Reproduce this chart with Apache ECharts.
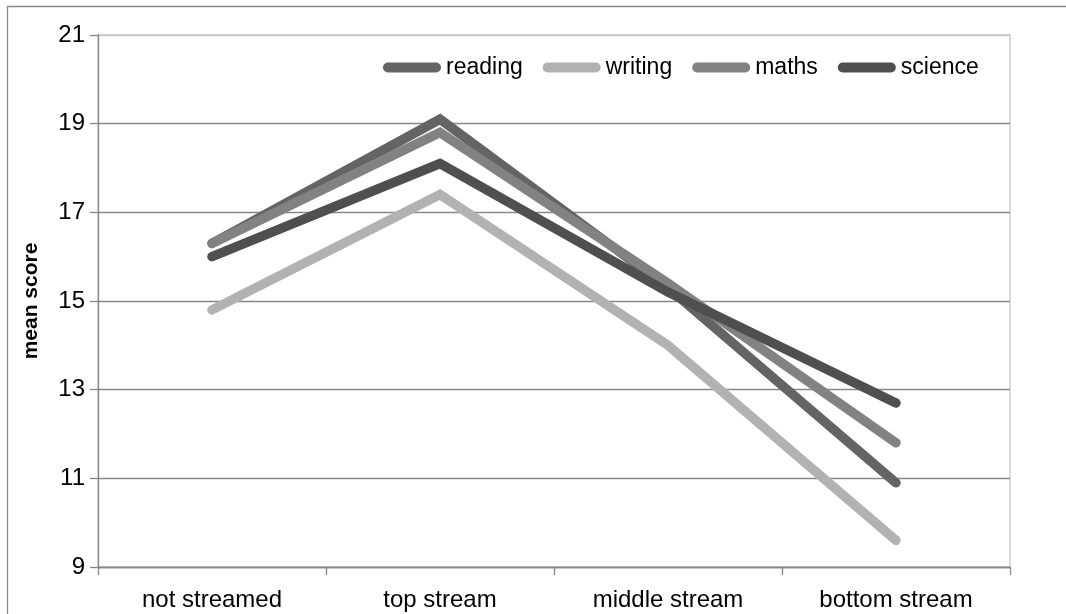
<!DOCTYPE html>
<html>
<head>
<meta charset="utf-8">
<script src="https://cdn.jsdelivr.net/npm/echarts@6/dist/echarts.min.js"></script>
<style>
html,body{margin:0;padding:0;background:#fff;}
#chart{width:1066px;height:614px;}
</style>
</head>
<body>
<div id="chart"></div>
<script>
const categories = ['not streamed', 'top stream', 'middle stream', 'bottom stream'];
const reading = [16.3, 19.1, 15.3, 10.9];
const writing = [14.8, 17.4, 14.0, 9.6];
const maths = [16.3, 18.8, 15.4, 11.8];
const science = [16.0, 18.1, 15.2, 12.7];
const seriesNames = ['reading', 'writing', 'maths', 'science'];
const seriesColors = ['#646464', '#b2b2b2', '#828282', '#4f4f4f'];
const yMin = 9, yMax = 21, yStep = 2;

const FONT = 'Liberation Sans';
const chart = echarts.init(document.getElementById('chart'), null, {renderer: 'canvas'});
const pill = 'path://M5,0 H54 A5,5 0 0 1 54,10 H5 A5,5 0 0 1 5,0 Z';
const dataSets = [reading, writing, maths, science];

chart.setOption({
  animation: false,
  backgroundColor: '#fff',
  textStyle: {fontFamily: FONT},
  graphic: [{
    type: 'rect', silent: true, z: -10,
    shape: {x: 7.5, y: 6.5, width: 1200, height: 800},
    style: {fill: 'none', stroke: '#8a8a8a', lineWidth: 1.3}
  }],
  grid: {
    left: 98, right: 56, top: 35, bottom: 47,
    show: true, borderColor: '#c8c8c8', borderWidth: 1.3
  },
  legend: {
    data: seriesNames,
    left: 378, top: 51,
    icon: pill,
    itemWidth: 58, itemHeight: 10,
    itemGap: 20,
    textStyle: {fontFamily: FONT, fontSize: 23, color: '#000'}
  },
  xAxis: {
    type: 'category',
    data: categories,
    boundaryGap: true,
    axisLine: {lineStyle: {color: '#888', width: 1.3}},
    axisTick: {show: true, length: 8, lineStyle: {color: '#888', width: 1.3}},
    axisLabel: {fontFamily: FONT, fontSize: 24, color: '#000', margin: 21}
  },
  yAxis: {
    type: 'value',
    min: yMin, max: yMax, interval: yStep,
    name: 'mean score',
    nameLocation: 'middle',
    nameGap: 56,
    nameTextStyle: {fontFamily: FONT, fontSize: 21, fontWeight: 'bold', color: '#000'},
    axisLine: {show: true, lineStyle: {color: '#888', width: 1.3}},
    axisTick: {show: true, length: 8, lineStyle: {color: '#888', width: 1.3}},
    axisLabel: {fontFamily: FONT, fontSize: 24, color: '#000', margin: 13},
    splitLine: {lineStyle: {color: ['#888', '#888', '#888', '#888', '#888', '#888', '#c8c8c8'], width: 1.3}}
  },
  series: seriesNames.map((n, i) => ({
    name: n,
    type: 'line',
    data: dataSets[i],
    showSymbol: false,
    symbol: 'none',
    color: seriesColors[i],
    lineStyle: {width: 9.5, color: seriesColors[i], cap: 'round', join: 'miter'}
  }))
});
</script>
</body>
</html>
